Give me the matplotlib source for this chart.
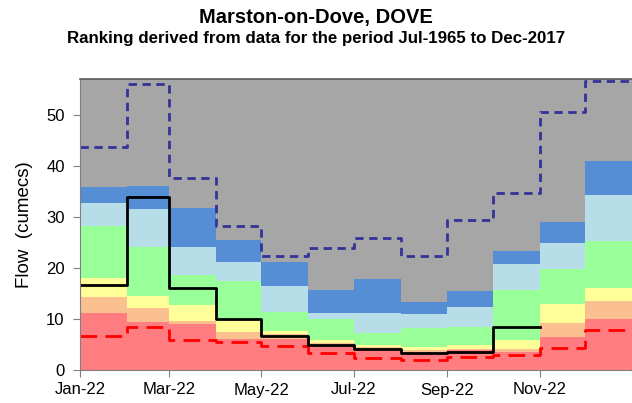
import matplotlib
matplotlib.use("Agg")
import matplotlib.pyplot as plt
import matplotlib.dates as mdates
import numpy as np
import datetime as dt

plt.rcParams['font.family'] = ['Liberation Sans', 'DejaVu Sans']

# Monthly data (Jan-22 .. Dec-22)
months = [dt.date(2022, m, 1) for m in range(1, 13)]
red_top = [11.1, 9.5, 9.0, 6.0, 6.1, 4.9, 4.3, 3.6, 3.9, 3.6, 6.4, 9.9]
salmon_top = [14.3, 12.1, 9.6, 7.5, 7.1, 5.2, 4.6, 3.9, 4.2, 4.2, 9.3, 13.5]
yellow_top = [18.0, 14.4, 12.7, 9.9, 7.7, 5.9, 4.9, 4.6, 4.9, 5.9, 12.9, 16.0]
green_top = [28.3, 24.1, 18.6, 17.5, 11.4, 10.0, 7.2, 8.3, 8.5, 15.6, 19.7, 25.2]
lightblue_top = [32.7, 31.5, 24.1, 21.1, 16.5, 11.2, 11.1, 11.0, 12.4, 20.7, 24.8, 34.3]
blue_top = [35.9, 36.1, 31.7, 25.5, 21.1, 15.6, 17.8, 13.4, 15.5, 23.4, 28.9, 41.0]
max_flow = [43.7, 56.1, 37.7, 28.2, 22.4, 23.9, 25.8, 22.4, 29.3, 34.6, 50.5, 56.7]
min_flow = [6.7, 8.4, 5.8, 5.5, 4.7, 3.4, 2.3, 1.9, 2.5, 2.9, 4.4, 7.8]
flow_2022 = [16.7, 33.8, 16.0, 10.0, 6.7, 4.9, 4.1, 3.3, 3.6, 8.4]

tick_labels = ['Jan-22', 'Mar-22', 'May-22', 'Jul-22', 'Sep-22', 'Nov-22', '']

edges = months + [dt.date(2023, 1, 1)]
x = mdates.date2num(edges)

def ext(v):
    return list(v) + [v[-1]]

fig = plt.figure(figsize=(6.32, 4.03), dpi=100)
ax = fig.add_axes([80/632, (403-370)/403, 552/632, 291/403])

ymax = 57
grey = '#A6A6A6'
ax.set_facecolor(grey)

bands = [
    ([0]*12, red_top, '#FF7C80'),
    (red_top, salmon_top, '#FAC090'),
    (salmon_top, yellow_top, '#FFFF99'),
    (yellow_top, green_top, '#99FF99'),
    (green_top, lightblue_top, '#B7DEE8'),
    (lightblue_top, blue_top, '#558ED5'),
    (blue_top, [ymax]*12, grey),
]
for lo, hi, c in bands:
    ax.fill_between(x, ext(lo), ext(hi), step='post', color=c, linewidth=0)

ax.step(x, ext(max_flow), where='post', color='#333399', lw=2.0,
        linestyle=(0, (3, 2)))
ax.step(x, ext(min_flow), where='post', color='#FF0000', lw=2.0,
        linestyle=(0, (6, 3)))
xf = mdates.date2num(edges[:len(flow_2022) + 1])
ax.step(xf, ext(flow_2022), where='post', color='black', lw=2.0)

ax.set_xlim(x[0], x[-1])
ax.set_ylim(0, ymax)
tick_dates = [dt.date(2022, m, 1) for m in (1, 3, 5, 7, 9, 11)] + [dt.date(2023, 1, 1)]
ax.set_xticks(mdates.date2num(tick_dates))
ax.set_xticklabels(tick_labels, fontsize=12)
ax.set_yticks([0, 10, 20, 30, 40, 50])
ax.tick_params(axis='y', labelsize=12, length=5, color='#808080', pad=6)
ax.tick_params(axis='x', length=5, color='#808080', pad=4)
ax.set_ylabel('Flow  (cumecs)', fontsize=13.5)
ax.yaxis.set_label_coords(-(80 - 33) / 552, 0.5)

for s in ['left', 'bottom']:
    ax.spines[s].set_color('#808080')
ax.spines['top'].set_color('#595959')
ax.spines['top'].set_linewidth(1.2)
ax.spines['right'].set_visible(False)

fig.text(0.5, 1 - 17/403, 'Marston-on-Dove, DOVE', ha='center', va='center',
         fontsize=14.5, fontweight='bold')
fig.text(0.5, 1 - 38/403, 'Ranking derived from data for the period Jul-1965 to Dec-2017',
         ha='center', va='center', fontsize=12.2, fontweight='bold')

fig.savefig('out.png', dpi=100)
